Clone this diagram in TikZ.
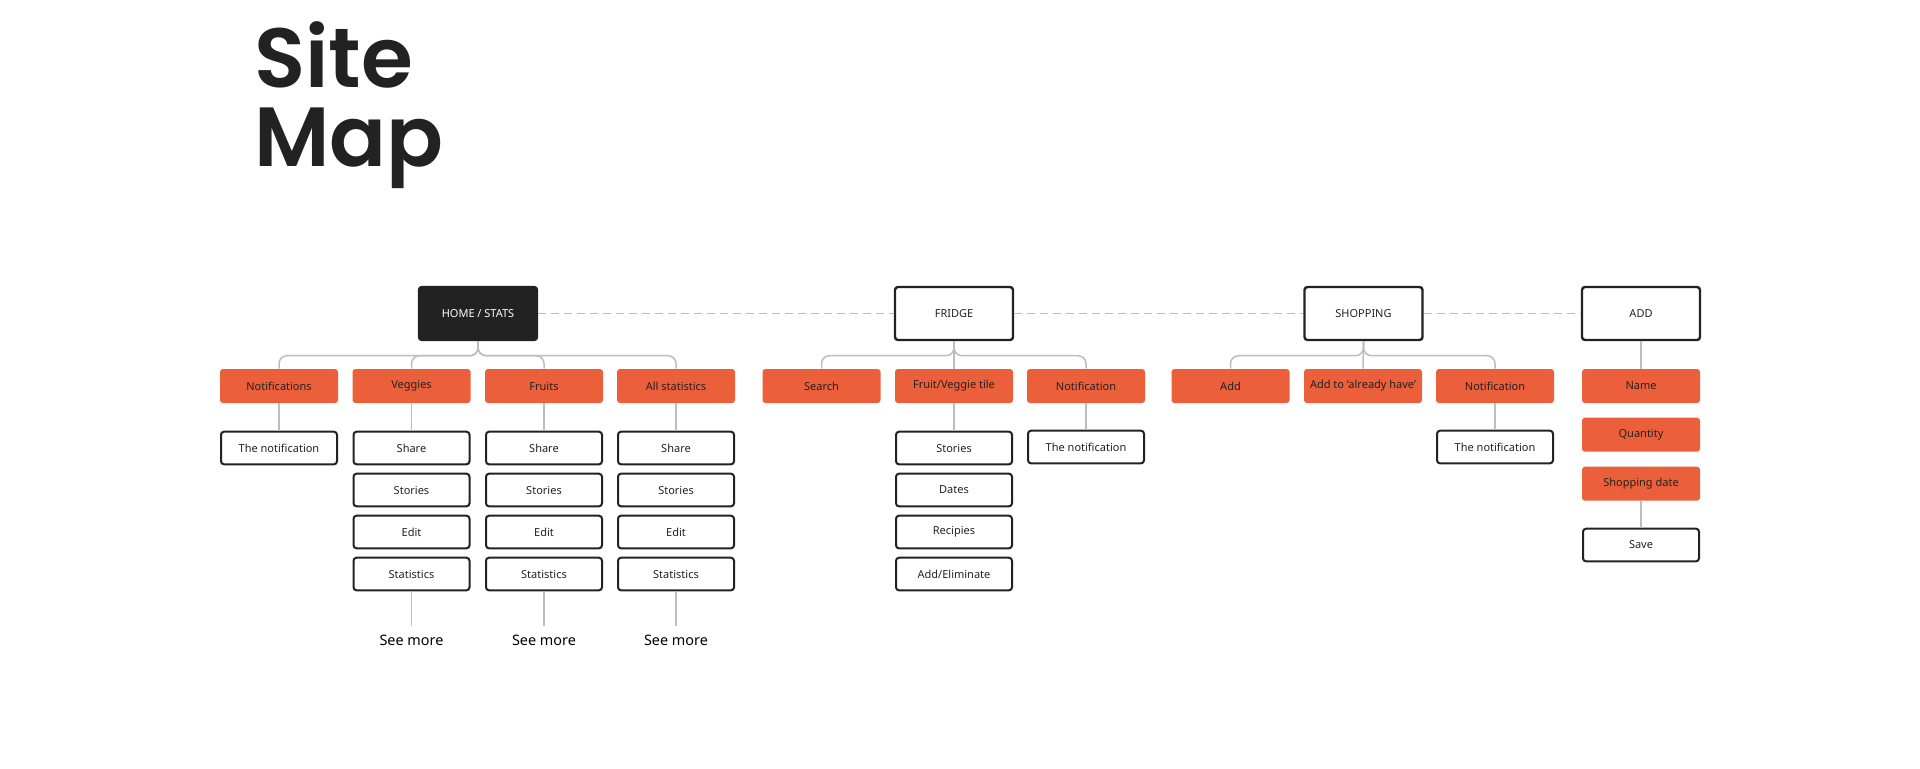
\documentclass[tikz,border=0pt]{standalone}
\usepackage{fontspec}
\setmainfont{Noto Sans}
\newfontfamily\titlefont{Poppins SemiBold}
\usetikzlibrary{positioning}
\definecolor{brick}{HTML}{EB603B}
\definecolor{ink}{HTML}{222222}
\definecolor{wire}{HTML}{BDBDBD}

\begin{document}
\begin{tikzpicture}[x=0.5pt,y=-0.5pt,
  page/.style={draw=ink,line width=1.2pt,rounded corners=1.5pt,minimum width=59pt,minimum height=26.5pt,inner sep=1pt,font=\fontsize{5.5}{6}\selectfont,text=ink,fill=white},
  homepage/.style={page,fill=ink,text=white},
  sect/.style={fill=brick,rounded corners=1.5pt,minimum width=59pt,minimum height=17pt,inner sep=1pt,font=\fontsize{5.5}{6}\selectfont,text=ink},
  leaf/.style={draw=ink,line width=1pt,rounded corners=1.5pt,minimum width=58pt,minimum height=16.3pt,inner sep=1pt,font=\fontsize{5.5}{6}\selectfont,text=ink},
  link/.style={draw=wire,line width=0.75pt},
  brace/.style={link,rounded corners=4pt},
  seemore/.style={font=\fontsize{7.2}{8}\selectfont,text=black,inner sep=1pt}]
\useasboundingbox[fill=white] (0,0) rectangle (1920,768);

\node[anchor=base west,inner sep=0,text=ink,font=\titlefont\fontsize{42}{42}\selectfont] (title1) at (254,87) {Site};
\node[anchor=base west,inner sep=0,text=ink,font=\titlefont\fontsize{42}{42}\selectfont] (title2) at (254,166) {Map};

\node[homepage] (home) at (478,313.5) {HOME / STATS};
\node[page] (fridge) at (954,313.5) {FRIDGE};
\node[page] (shop) at (1363.5,313.5) {SHOPPING};
\node[page] (add) at (1641,313.5) {ADD};

\draw[link,dash pattern=on 4pt off 2.5pt] (home.east) -- (fridge.west);
\draw[link,dash pattern=on 4pt off 2.5pt] (fridge.east) -- (shop.west);
\draw[link,dash pattern=on 4pt off 2.5pt] (shop.east) -- (add.west);

\node[sect] (notif) at (279,386) {Notifications};
\node[sect] (veg) at (411.5,386) {Veggies};
\node[sect] (fruit) at (544,386) {Fruits};
\node[sect] (allst) at (676,386) {All statistics};
\node[sect] (search) at (821.5,386) {Search};
\node[sect] (tile) at (954,386) {Fruit/Veggie tile};
\node[sect] (fnote) at (1086,386) {Notification};
\node[sect] (shopadd) at (1230.5,386) {Add};
\node[sect] (have) at (1363,386) {Add to `already have'};
\node[sect] (snote) at (1495,386) {Notification};
\node[sect] (name) at (1641,386) {Name};
\node[sect] (qty) at (1641,434.7) {Quantity};
\node[sect] (sdate) at (1641,483.7) {Shopping date};

\draw[brace] (home.south) -- ([yshift=-7.25pt]home.south) -| (notif.north);
\draw[brace] (home.south) -- ([yshift=-7.25pt]home.south) -| (veg.north);
\draw[brace] (home.south) -- ([yshift=-7.25pt]home.south) -| (fruit.north);
\draw[brace] (home.south) -- ([yshift=-7.25pt]home.south) -| (allst.north);
\draw[brace] (fridge.south) -- ([yshift=-7.25pt]fridge.south) -| (search.north);
\draw[brace] (fridge.south) -- ([yshift=-7.25pt]fridge.south) -| (fnote.north);
\draw[link] (fridge.south) -- (tile.north);
\draw[brace] (shop.south) -- ([yshift=-7.25pt]shop.south) -| (shopadd.north);
\draw[brace] (shop.south) -- ([yshift=-7.25pt]shop.south) -| (snote.north);
\draw[link] (shop.south) -- (have.north);
\draw[link] (add.south) -- (name.north);

\node[leaf] (notifleaf) at (279,448) {The notification};
\draw[link] (notif.south) -- (notifleaf.north);

\foreach \col/\x in {veg/411.5,fruit/544,allst/676} {
  \node[leaf] (\col1) at (\x,448) {Share};
  \node[leaf] (\col2) at (\x,490) {Stories};
  \node[leaf] (\col3) at (\x,532) {Edit};
  \node[leaf] (\col4) at (\x,574) {Statistics};
  \node[seemore] (\col more) at (\x,640) {See more};
  \draw[link] (\col.south) -- (\col1.north);
  \draw[link] (\col4.south) -- ([yshift=3pt]\col more.north);
}

\node[leaf] (tile1) at (954,448) {Stories};
\node[leaf] (tile2) at (954,490) {Dates};
\node[leaf] (tile3) at (954,532) {Recipies};
\node[leaf] (tile4) at (954,574) {Add/Eliminate};
\draw[link] (tile.south) -- (tile1.north);

\node[leaf] (fnoteleaf) at (1086,447) {The notification};
\draw[link] (fnote.south) -- (fnoteleaf.north);
\node[leaf] (snoteleaf) at (1495,447) {The notification};
\draw[link] (snote.south) -- (snoteleaf.north);

\node[leaf] (save) at (1641,545) {Save};
\draw[link] (sdate.south) -- (save.north);
\end{tikzpicture}
\end{document}
